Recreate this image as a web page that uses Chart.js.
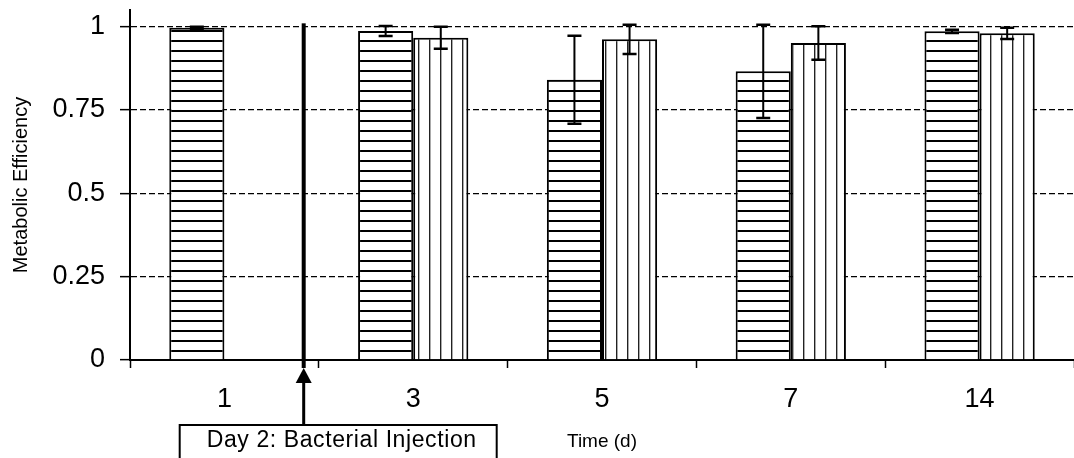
<!DOCTYPE html>
<html>
<head>
<meta charset="utf-8">
<title>Metabolic Efficiency</title>
<script src="https://cdn.jsdelivr.net/npm/chart.js@4.4.1/dist/chart.umd.min.js"></script>
<style>
  html, body { margin: 0; padding: 0; background: #fff; }
  #wrap { width: 1074px; height: 458px; }
</style>
</head>
<body>
<div id="wrap"><canvas id="chartCanvas"></canvas></div>
<script>
// sampling days
const days = ['1', '3', '5', '7', '14'];
// mean metabolic efficiency for the two groups (no second group on day 1)
const groupA = [0.997, 0.987, 0.841, 0.866, 0.986];
const groupB = [null, 0.967, 0.962, 0.951, 0.980];
// error bar half-heights
const errA = [0.003, 0.015, 0.132, 0.140, 0.005];
const errB = [null, 0.033, 0.044, 0.050, 0.017];
const yTicks = [0, 0.25, 0.5, 0.75, 1];

// injection marker sits between day 1 and day 3 (in category steps past day 1)
const injectionAt = 0.42;
const injectionText = 'Day 2: Bacterial Injection';

const family = '"Liberation Sans", Arial, Helvetica, sans-serif';
Chart.defaults.font.family = family;
Chart.defaults.color = '#000';

const canvas = document.getElementById('chartCanvas');
const ctx = canvas.getContext('2d');

// striped fills for the bars
function stripes(horizontal) {
  const c = document.createElement('canvas');
  const p = c.getContext('2d');
  if (horizontal) {
    c.width = 8; c.height = 10;
    p.fillStyle = '#fff'; p.fillRect(0, 0, 8, 10);
    p.fillStyle = '#000'; p.fillRect(0, 0, 8, 2);
  } else {
    c.width = 11; c.height = 8;
    p.fillStyle = '#fff'; p.fillRect(0, 0, 11, 8);
    p.fillStyle = '#222'; p.fillRect(0, 0, 1, 8);
    p.fillStyle = '#aaa'; p.fillRect(1, 0, 1, 8);
  }
  return ctx.createPattern(c, 'repeat');
}

const errorBars = {
  id: 'errorBars',
  afterDatasetsDraw(chart) {
    const c = chart.ctx;
    const y = chart.scales.y;
    [errA, errB].forEach((errs, di) => {
      const vals = chart.data.datasets[di].data;
      chart.getDatasetMeta(di).data.forEach((bar, i) => {
        if (vals[i] == null || errs[i] == null) return;
        const hi = y.getPixelForValue(vals[i] + errs[i]);
        const lo = y.getPixelForValue(vals[i] - errs[i]);
        c.save();
        c.strokeStyle = '#000';
        c.lineWidth = 2;
        c.beginPath();
        c.moveTo(bar.x, hi); c.lineTo(bar.x, lo);
        c.stroke();
        c.lineWidth = 2.5;
        c.beginPath();
        c.moveTo(bar.x - 7, hi); c.lineTo(bar.x + 7, hi);
        c.moveTo(bar.x - 7, lo); c.lineTo(bar.x + 7, lo);
        c.stroke();
        c.restore();
      });
    });
  }
};

const injection = {
  id: 'injection',
  afterDraw(chart) {
    const c = chart.ctx;
    const {chartArea, scales: {x, y}} = chart;
    const step = x.getPixelForValue(1) - x.getPixelForValue(0);
    const lx = x.getPixelForValue(0) + injectionAt * step;
    const top = y.getPixelForValue(1.01);
    const tip = chartArea.bottom + 8;
    const boxTop = chartArea.bottom + 65;
    c.save();
    c.fillStyle = '#000';
    // heavy line through the plot
    c.fillRect(lx - 2, top, 4, tip - top);
    // arrow from the label up to the axis
    c.beginPath();
    c.moveTo(lx, tip);
    c.lineTo(lx - 8, tip + 15);
    c.lineTo(lx + 8, tip + 15);
    c.closePath();
    c.fill();
    c.fillRect(lx - 1.5, tip + 14, 3, boxTop - tip - 14);
    // label box
    c.lineWidth = 2;
    c.strokeStyle = '#000';
    c.fillStyle = '#fff';
    c.fillRect(lx - 124, boxTop, 317, 60);
    c.strokeRect(lx - 124, boxTop, 317, 60);
    c.fillStyle = '#000';
    c.font = '23px ' + family;
    c.letterSpacing = '0.6px';
    c.textAlign = 'center';
    c.textBaseline = 'alphabetic';
    c.fillText(injectionText, lx + 38, boxTop + 22);
    c.restore();
  }
};

new Chart(ctx, {
  type: 'bar',
  data: {
    labels: days,
    datasets: [
      {
        data: groupA,
        backgroundColor: stripes(true),
        borderColor: '#000',
        borderWidth: 2,
        borderSkipped: 'start'
      },
      {
        data: groupB,
        backgroundColor: stripes(false),
        borderColor: '#000',
        borderWidth: 2,
        borderSkipped: 'start'
      }
    ]
  },
  options: {
    responsive: true,
    maintainAspectRatio: false,
    animation: false,
    devicePixelRatio: 1,
    layout: { padding: { top: 10, left: 0, right: 0, bottom: 0 } },
    datasets: { bar: { categoryPercentage: 0.584, barPercentage: 1 } },
    plugins: { legend: { display: false }, tooltip: { enabled: false } },
    scales: {
      x: {
        grid: { offset: true, drawOnChartArea: false, tickLength: 8, tickColor: '#000', tickWidth: 1.5 },
        border: { color: '#000', width: 2 },
        ticks: { font: { size: 27 }, padding: 15 },
        title: { display: true, text: 'Time (d)', font: { size: 19 }, padding: { top: 0, bottom: 5 } },
        afterFit(s) { s.height = 98; s.paddingLeft = 0; s.paddingRight = 0; }
      },
      y: {
        min: 0,
        max: 1.05,
        afterBuildTicks(s) { s.ticks = yTicks.map(v => ({ value: v })); },
        grid: {
          color: c => (c.tick && c.tick.value === 0 ? 'transparent' : '#000'),
          lineWidth: 1.3,
          tickColor: '#000',
          tickLength: 10,
          tickWidth: 1.5
        },
        border: { color: '#000', width: 2, dash: [6, 3] },
        ticks: { font: { size: 27 }, padding: 15, callback: v => String(v) },
        title: { display: true, text: 'Metabolic Efficiency', font: { size: 20 }, padding: { top: 9, bottom: 0 } },
        afterFit(s) { s.width = 130; s.paddingTop = 0; s.paddingBottom = 0; }
      }
    }
  },
  plugins: [errorBars, injection]
});
</script>
</body>
</html>
